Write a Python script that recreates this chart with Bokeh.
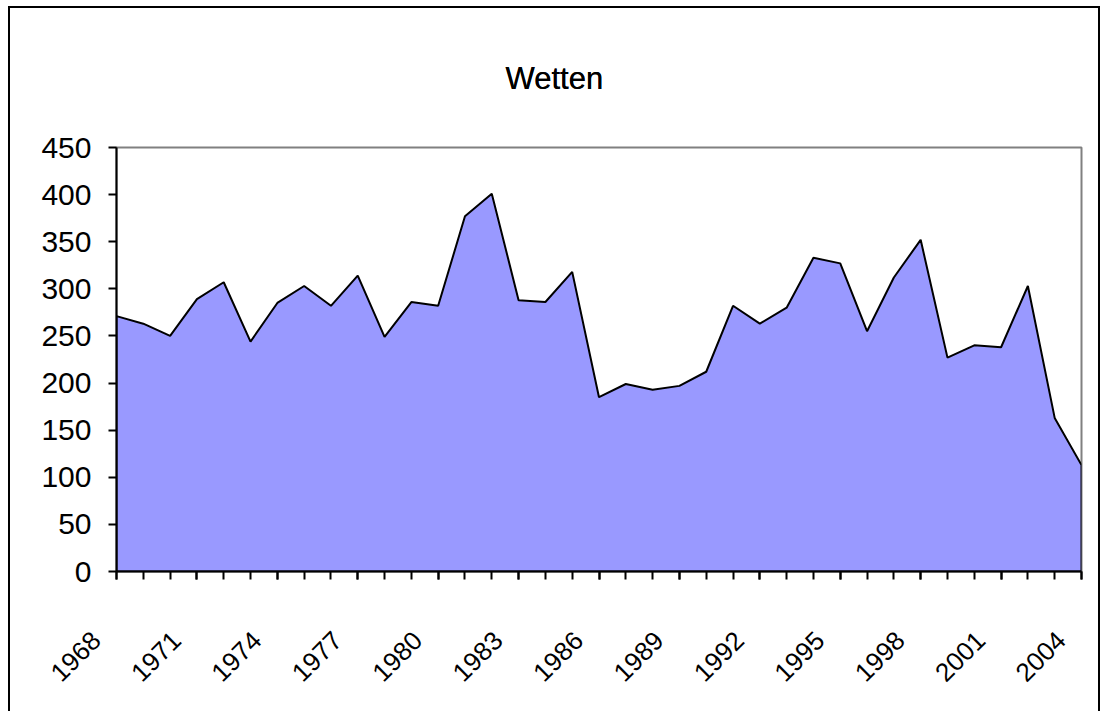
import math
from bokeh.plotting import figure
from bokeh.models import Range1d, FixedTicker, Title
from bokeh.embed import file_html
from bokeh.resources import INLINE

years = list(range(1968, 2005))
wetten = [271, 263, 250, 289, 307, 244, 285, 303, 282, 314, 249, 286,
          282, 377, 401, 288, 286, 318, 185, 199, 193, 197, 212, 282,
          263, 280, 333, 327, 255, 312, 352, 227, 240, 238, 303, 163, 113]
label_years = list(range(1968, 2005, 3))
y_ticks = list(range(0, 451, 50))
title_text = "Wetten"

FONT = "Liberation Sans"
NBSP = "\u00a0"

p = figure(width=1092, height=705, output_backend="svg", toolbar_location=None,
           x_range=Range1d(years[0], years[-1]), y_range=Range1d(0, 450),
           min_border_left=106, min_border_right=21, min_border_top=139,
           min_border_bottom=142,
           styles={"margin-left": "8px", "margin-top": "6px",
                   "border-left": "2px solid black", "border-top": "2px solid black",
                   "border-right": "2px solid black"})

p.title.text = title_text
p.title.align = "left"
p.title.offset = 389
p.title.standoff = 10
p.title.text_font = FONT
p.title.text_font_size = "31px"
p.title.text_font_style = "normal"
p.title.text_color = "black"

# invisible spacer between title and plot area (closest to the plot area)
spacer = Title(text=NBSP, text_font_size="1px", standoff=93, text_color=None)
p.above = [spacer, p.title]

p.grid.visible = False
p.outline_line_color = "#808080"
p.outline_line_width = 2
p.background_fill_color = "white"
p.border_fill_color = "white"

# area
px = [years[0]] + years + [years[-1]]
py = [0] + wetten + [0]
p.patch(px, py, fill_color="#9999FF", line_color="black", line_width=2)

# axes
xa = p.xaxis[0]
xa.ticker = FixedTicker(ticks=label_years, minor_ticks=years)
xa.axis_line_color = "black"
xa.axis_line_width = 2
xa.major_tick_in = 0
xa.major_tick_out = 8
xa.minor_tick_in = 0
xa.minor_tick_out = 8
xa.major_tick_line_color = "black"
xa.minor_tick_line_color = "black"
xa.major_tick_line_width = 2
xa.minor_tick_line_width = 2
xa.major_label_orientation = math.pi / 4
xa.major_label_overrides = {y: str(y) + NBSP * 4 for y in label_years}
xa.major_label_text_font = FONT
xa.major_label_text_font_size = "26px"
xa.major_label_text_color = "black"
xa.major_label_standoff = 36

ya = p.yaxis[0]
ya.ticker = FixedTicker(ticks=y_ticks)
ya.axis_line_color = "black"
ya.axis_line_width = 2
ya.major_tick_in = 0
ya.major_tick_out = 8
ya.minor_tick_line_color = None
ya.major_tick_line_color = "black"
ya.major_tick_line_width = 2
ya.major_label_text_font = FONT
ya.major_label_text_font_size = "30px"
ya.major_label_text_color = "black"
ya.major_label_standoff = 17

open("out.html", "w").write(file_html(p, INLINE))
